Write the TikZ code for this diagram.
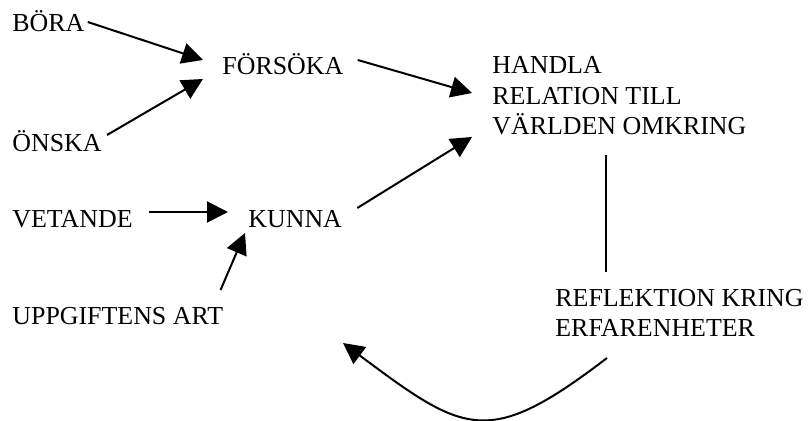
\documentclass[tikz,border=0pt]{standalone}
\usepackage{fontspec}
\setmainfont{Liberation Serif}
\usetikzlibrary{arrows.meta,calc}

\begin{document}
\begin{tikzpicture}[x=0.5bp, y=-0.5bp,
    word/.style={inner sep=0, anchor=base west, align=left, font=\fontsize{13}{15.5}\selectfont},
    pil/.style={line width=1bp, -{Triangle[length=10.5bp, width=10.5bp]}},
    linje/.style={line width=1bp}]
        \useasboundingbox (0,0) rectangle (812,421);
        % Labels for the words
        \node[word] (bora) at (12, 32) {BÖRA};
        \node[word] (onska) at (12, 152) {ÖNSKA};
        \node[word] (forsoka) at (222, 75) {FÖRSÖKA};
        \node[word] (vetande) at (12, 228) {VETANDE};
        \node[word] (kunna) at (248, 228) {KUNNA};
        \node[word] (uppgift) at (12, 325) {UPPGIFTENS ART};
        \node[word] (handla) at (492, 135) {HANDLA\\RELATION TILL\\VÄRLDEN OMKRING};
        \node[word] (reflektion) at (555, 337) {REFLEKTION KRING\\ERFARENHETER};
        \coordinate (retur) at (343, 343);
        % Arrows between the words
        \draw[pil] ($(bora.base east)+(3,-10)$) -- ($(forsoka.base west)+(-19,-15)$);
        \draw[pil] ($(onska.base east)+(5,-17)$) -- ($(forsoka.base west)+(-19,4)$);
        \draw[pil] ($(forsoka.base east)+(14,-15)$) -- ($(handla.base west)+(-20,-42)$);
        \draw[pil] ($(vetande.base east)+(16,-16)$) -- ($(kunna.base west)+(-20,-16)$);
        \draw[pil] ($(uppgift.base east)+(-3,-35)$) -- ($(kunna.base west)+(-3,5)$);
        \draw[pil] ($(kunna.base east)+(15,-20)$) -- ($(handla.base west)+(-20,2)$);
        % Line and curve back
        \draw[linje] ($(handla.base west)+(114,20)$) -- ($(reflektion.base west)+(51,-65)$);
        \draw[pil] ($(reflektion.base west)+(52,21)$) .. controls +(-119,91) and +(122,91) .. (retur);
\end{tikzpicture}
\end{document}
